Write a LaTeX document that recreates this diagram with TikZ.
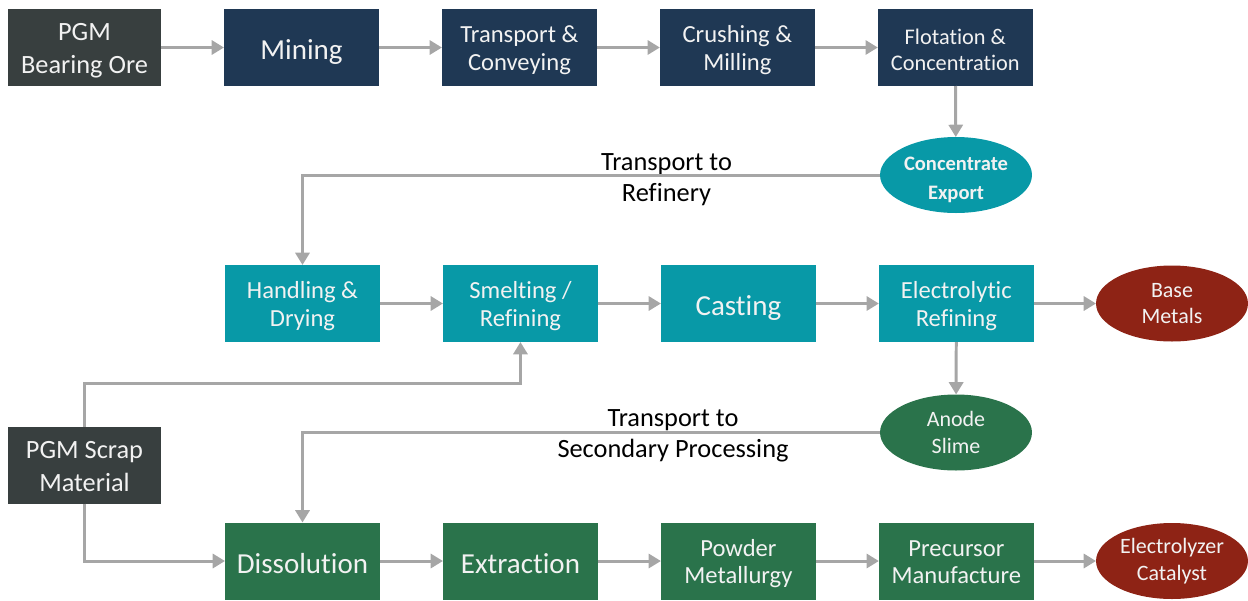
\documentclass[tikz,border=0pt]{standalone}
\usepackage{fontspec}
\setmainfont{Carlito}[Ligatures=NoCommon]
\usepackage{xcolor}
\usepackage{tikz}
\usetikzlibrary{arrows.meta,positioning,shapes.geometric}

\definecolor{oregray}{HTML}{383F3F}
\definecolor{minenavy}{HTML}{1F3854}
\definecolor{refteal}{HTML}{0899A7}
\definecolor{procgreen}{HTML}{2A734B}
\definecolor{outred}{HTML}{8E2315}
\definecolor{linegray}{HTML}{A6A6A6}
\definecolor{boxtext}{HTML}{F2F2F2}

\begin{document}
\begin{tikzpicture}[
  x=0.02cm, y=-0.02cm,
  node distance=1.26cm,
  flowstep/.style={rectangle,text=boxtext,align=center,inner sep=1pt,outer sep=0pt,
    minimum width=3.1cm,minimum height=1.54cm,
    font=\fontsize{14}{15.9}\selectfont,text height=29.2pt,text depth=3.1pt},
  bigstep/.style={flowstep,font=\fontsize{16.5}{18}\selectfont,
    text height=17.3pt,text depth=3.5pt},
  sourcebox/.style={flowstep,fill=oregray,minimum width=3.06cm,
    font=\fontsize{15}{18.7}\selectfont,text height=32.95pt,text depth=3.15pt},
  product/.style={ellipse,text=boxtext,align=center,inner sep=0pt,outer sep=0pt,
    minimum width=3.04cm,minimum height=1.52cm,
    font=\fontsize{12.5}{15.3}\selectfont},
  routelabel/.style={align=center,text=black,font=\fontsize{15}{18}\selectfont,
    text height=31.5pt,text depth=3.45pt},
  arrow/.style={-{Triangle[length=7pt,width=8pt]},draw=linegray,line width=1.7pt}
]
  \useasboundingbox (0,0) rectangle (1248,600);

  % mining row
  \node[sourcebox] (ore) at (84.5,47.5) {PGM\\Bearing Ore};
  \node[bigstep,fill=minenavy,right=of ore] (mining) {Mining};
  \node[flowstep,fill=minenavy,right=of mining] (transport) {Transport \&\\Conveying};
  \node[flowstep,fill=minenavy,right=of transport] (crushing) {Crushing \&\\Milling};
  \node[flowstep,fill=minenavy,right=of crushing,font=\fontsize{12.7}{14.7}\selectfont,
    text height=28pt,text depth=2.3pt] (flotation) {Flotation \&\\Concentration};
  \node[product,fill=refteal,font=\bfseries\fontsize{11.7}{17}\selectfont,inner ysep=-1.8pt,
    text height=30.5pt,text depth=2.1pt] (concentrate) at (956,175) {Concentrate\\Export};

  % refining row
  \node[flowstep,fill=refteal] (handling) at (302.5,303.5) {Handling \&\\Drying};
  \node[flowstep,fill=refteal,right=of handling] (smelting) {Smelting /\\Refining};
  \node[bigstep,fill=refteal,right=of smelting] (casting) {Casting};
  \node[flowstep,fill=refteal,right=of casting] (electrolytic) {Electrolytic\\Refining};
  \node[product,fill=outred] (basemetals) at (1172,303.5) {Base\\Metals};
  \node[product,fill=procgreen] (anode) at (956,432.5) {Anode\\Slime};

  % secondary row
  \node[sourcebox] (scrap) at (84.5,465) {PGM Scrap\\Material};
  \node[bigstep,fill=procgreen] (dissolution) at (302.5,561) {Dissolution};
  \node[bigstep,fill=procgreen,right=of dissolution] (extraction) {Extraction};
  \node[flowstep,fill=procgreen,right=of extraction] (powder) {Powder\\Metallurgy};
  \node[flowstep,fill=procgreen,right=of powder] (precursor) {Precursor\\Manufacture};
  \node[product,fill=outred] (catalyst) at (1172,561) {Electrolyzer\\Catalyst};

  % route labels
  \node[routelabel] (tolabel) at (666.5,177) {Transport to\\Refinery};
  \node[routelabel] (secondlabel) at (673,433) {Transport to\\Secondary Processing};

  \draw[arrow] (ore) -- (mining);
  \draw[arrow] (mining) -- (transport);
  \draw[arrow] (transport) -- (crushing);
  \draw[arrow] (crushing) -- (flotation);
  \draw[arrow] (flotation) -- (concentrate);
  \draw[arrow] (concentrate.west) -| (handling.north);

  \draw[arrow] (handling) -- (smelting);
  \draw[arrow] (smelting) -- (casting);
  \draw[arrow] (casting) -- (electrolytic);
  \draw[arrow] (electrolytic) -- (basemetals);
  \draw[arrow] (electrolytic) -- (anode);
  \draw[arrow] (anode.west) -| (dissolution.north);

  \draw[arrow] (scrap.north) -- ++(0,-43) -| (smelting.south);
  \draw[arrow] (scrap.south) |- (dissolution.west);
  \draw[arrow] (dissolution) -- (extraction);
  \draw[arrow] (extraction) -- (powder);
  \draw[arrow] (powder) -- (precursor);
  \draw[arrow] (precursor) -- (catalyst);
\end{tikzpicture}
\end{document}
